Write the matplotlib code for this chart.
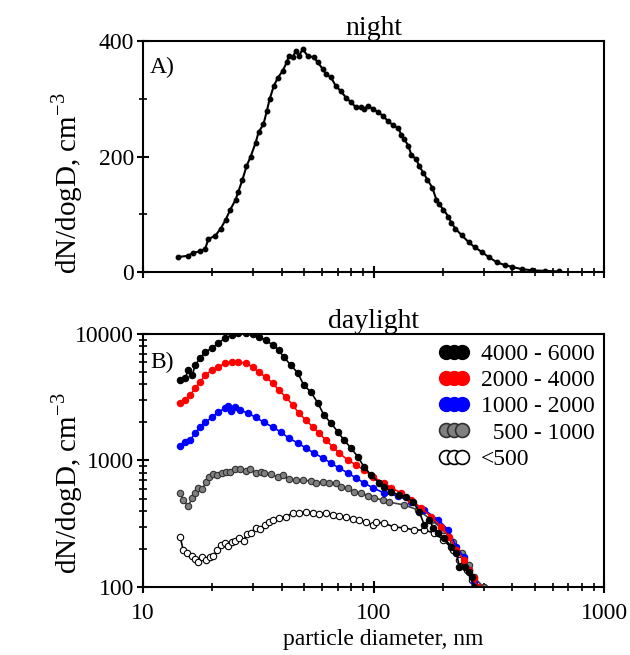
import matplotlib
matplotlib.use("Agg")
import matplotlib.pyplot as plt
from matplotlib.lines import Line2D
from matplotlib.ticker import LogLocator, NullFormatter, FixedLocator

plt.rcParams["font.family"] = ["Liberation Serif", "DejaVu Serif"]
plt.rcParams["mathtext.fontset"] = "custom"
plt.rcParams["mathtext.rm"] = "Liberation Serif"

# ---- A) night ----------------------------------------------------------
night_d = [14.2, 15.6, 16.5, 17.7, 18.6, 19.2, 20.6, 21.7, 22.8, 23.9, 25.2, 25.9,
           27.0, 28.1, 29.3, 30.8, 31.7, 33.3, 34.4, 35.4, 36.9, 38.4, 40.3, 42.0,
           42.9, 44.6, 46.0, 47.4, 49.3, 51.8, 55.0, 57.3, 60.3, 62.1, 65.3, 68.6,
           72.2, 75.9, 79.8, 83.9, 88.2, 90.9, 94.6, 99.5, 104.6, 110.0, 115.7, 121.6,
           127.9, 131.8, 135.8, 141.4, 145.7, 153.2, 157.9, 164.3, 171.1, 179.8, 187.3,
           192.9, 200.8, 211.1, 217.6, 226.5, 240.6, 258.1, 274.2, 294.1, 315.4, 341.8,
           370.3, 397.3, 439.3, 485.7, 553.4, 636.8]
night_n = [26, 28, 33, 36, 40, 57, 63, 75, 90, 108, 125, 139,
           160, 183, 200, 224, 242, 256, 278, 299, 322, 336, 348, 363,
           374, 372, 383, 374, 386, 374, 372, 363, 351, 343, 337, 322,
           313, 302, 294, 285, 285, 282, 288, 282, 277, 270, 261, 254,
           249, 238, 230, 219, 203, 195, 183, 172, 160, 146, 125,
           117, 108, 96, 85, 75, 64, 52, 43, 35, 26, 17,
           12, 9, 5, 3, 2, 1]

# ---- B) daylight, five concentration classes ---------------------------
d_black = [14.5, 15.24, 15.71, 16.35, 16.85, 17.72, 18.63, 19.98, 21.22, 22.77, 24.42,
           25.94, 27.83, 29.86, 31.7, 34.0, 36.48, 38.75, 40.74, 43.71, 46.88, 49.8,
           53.42, 57.3, 60.86, 65.28, 70.04, 74.39, 79.8, 85.6, 90.91, 97.53, 105.7,
           111.1, 119.2, 129.1, 138.6, 148.7, 157.9, 166.0, 174.5, 181.6, 191.0, 202.8,
           217.6, 228.8, 235.8, 248.0, 258.1, 266.0, 271.4]
n_black = [4325, 4490, 5190, 4740, 5690, 6460, 7210, 7750, 8490, 9300, 9820,
           10180, 10180, 10000, 9470, 8970, 8190, 7470, 6580, 5690, 4920, 3950,
           3480, 2850, 2290, 1980, 1680, 1450, 1255, 1066, 889, 768, 664,
           617, 564, 533, 514, 469, 391, 309, 339, 293, 267, 244,
           207, 186, 144, 144, 131, 120, 100]

d_red = [14.5, 15.24, 16.03, 16.85, 17.72, 18.63, 19.98, 21.22, 22.77, 24.42, 25.94,
         27.83, 29.86, 31.7, 34.0, 36.48, 38.75, 41.58, 44.6, 47.36, 50.82, 54.51,
         57.88, 62.09, 66.6, 70.74, 77.43, 83.89, 90.91, 99.5, 111.1, 119.2, 131.8,
         145.7, 161.1, 178.1, 196.9, 213.3, 228.8, 245.5, 258.1, 271.4, 282.5]
n_red = [2850, 3010, 3300, 3740, 4175, 4740, 5190, 5480, 5900, 6010, 6010,
         5900, 5480, 5010, 4570, 4100, 3610, 3180, 2750, 2370, 2090, 1840,
         1650, 1450, 1280, 1147, 1009, 921, 841, 741, 664, 607, 554,
         487, 421, 358, 298, 248, 196, 163, 136, 118, 100]

d_blue = [14.5, 15.24, 16.03, 16.85, 17.72, 18.63, 19.98, 21.22, 22.77, 23.47, 24.18,
          25.17, 26.46, 28.4, 30.77, 33.33, 36.48, 39.54, 42.85, 46.88, 50.82, 55.04,
          60.26, 65.28, 70.74, 77.43, 83.89, 90.91, 99.5, 111.1, 127.9, 145.7, 166.0,
          191.0, 211.1, 228.8, 245.5, 258.1, 271.4]
n_blue = [1303, 1400, 1450, 1650, 1840, 2010, 2200, 2420, 2600, 2700, 2460,
          2650, 2500, 2370, 2200, 2010, 1840, 1680, 1505, 1375, 1255, 1147,
          1046, 955, 873, 796, 727, 664, 607, 554, 525, 469, 406,
          339, 282, 207, 173, 136, 110]

d_gray = [14.5, 14.94, 15.71, 16.35, 16.85, 17.36, 18.07, 18.81, 19.39, 20.18, 21.01,
          22.09, 23.0, 23.94, 25.17, 26.46, 27.83, 28.97, 30.77, 32.34, 33.33, 35.75,
          38.37, 40.34, 42.85, 45.96, 49.3, 53.42, 56.17, 60.26, 63.99, 68.64, 72.18,
          77.43, 82.23, 88.21, 94.63, 100.5, 110.0, 116.8, 135.8, 156.3, 178.1, 200.8,
          222.0, 240.6, 258.1, 271.4, 300.0]
n_gray = [554, 487, 437, 505, 554, 607, 596, 676, 741, 782, 768,
          796, 811, 811, 857, 857, 826, 857, 796, 811, 796, 782,
          741, 768, 714, 701, 701, 689, 664, 676, 664, 664, 617,
          607, 564, 554, 525, 505, 487, 469, 445, 406, 339, 282,
          227, 186, 149, 120, 100]

d_white = [14.5, 14.94, 15.55, 16.35, 16.85, 17.36, 18.07, 18.81, 19.58, 20.18, 21.01,
           21.87, 22.77, 23.47, 24.42, 25.17, 26.2, 27.28, 28.11, 29.27, 30.77, 32.02,
           33.66, 35.04, 36.48, 38.75, 41.58, 44.6, 47.36, 50.82, 54.51, 57.88, 62.09,
           66.6, 70.74, 75.89, 81.41, 86.46, 92.77, 99.5, 102.5, 111.1, 122.8, 135.8,
           150.2, 166.0, 183.5, 200.8, 222.0, 235.8, 253.0, 266.0]
n_white = [248, 196, 186, 176, 166, 158, 173, 163, 173, 176, 196,
           215, 223, 211, 227, 231, 244, 231, 262, 267, 293, 285,
           309, 327, 339, 351, 358, 385, 385, 391, 385, 378, 385,
           371, 365, 358, 345, 339, 327, 309, 327, 319, 298, 293,
           282, 282, 267, 236, 196, 163, 136, 114]

labels = ["4000 - 6000", "2000 - 4000", "1000 - 2000", "  500 - 1000", "<500"]

fig = plt.figure(figsize=(6.3, 6.55), dpi=100)
axA = fig.add_axes([0.227, 0.5847, 0.732, 0.3527])
axB = fig.add_axes([0.227, 0.1038, 0.732, 0.3863])

FS = 17
YL = 21

for ax in (axA, axB):
    ax.set_xscale("log")
    ax.set_xlim(10, 1000)
    for s in ax.spines.values():
        s.set_linewidth(1.5)
    ax.tick_params(which="major", direction="inout", length=9, width=1.5,
                   labelsize=FS, right=False, top=False, pad=2)
    ax.tick_params(which="minor", direction="inout", length=6, width=1.2,
                   right=False, top=False)
    ax.xaxis.set_minor_locator(LogLocator(base=10, subs=range(2, 10)))
    ax.xaxis.set_minor_formatter(NullFormatter())

# panel A
axA.plot(night_d, night_n, color="black", lw=1.5, marker="o", ms=3.2, mfc="black",
         mec="black")
axA.set_ylim(0, 400)
axA.set_yticks([0, 200, 400])
axA.yaxis.set_minor_locator(FixedLocator([100, 300]))
axA.set_xticklabels([])
axA.set_ylabel("dN/dogD, cm$^{-3}$", fontsize=YL)
axA.yaxis.set_label_coords(-0.125, 0.385)
axA.set_title("night", fontsize=20, pad=2)
axA.text(0.015, 0.93, "A)", transform=axA.transAxes, fontsize=FS, va="top")

# panel B
series = [
    (d_white, n_white, "black", "white", "black"),
    (d_gray, n_gray, "#404040", "#808080", "#303030"),
    (d_blue, n_blue, "blue", "blue", "blue"),
    (d_red, n_red, "red", "red", "red"),
    (d_black, n_black, "black", "black", "black"),
]
for d, n, lc, fc, ec in series:
    axB.plot(d, n, color=lc, lw=1.2, marker="o", ms=4.6, mfc=fc, mec=ec, mew=0.8)

axB.set_yscale("log")
axB.set_ylim(100, 10000)
axB.set_yticks([100, 1000, 10000])
axB.set_yticklabels(["100", "1000", "10000"])
axB.yaxis.set_minor_locator(LogLocator(base=10, subs=range(2, 10)))
axB.yaxis.set_minor_formatter(NullFormatter())
axB.set_xticks([10, 100, 1000])
axB.set_xticklabels(["10", "100", "1000"])
axB.tick_params(axis="x", pad=7)
axB.set_ylabel("dN/dogD, cm$^{-3}$", fontsize=YL)
axB.yaxis.set_label_coords(-0.125, 0.41)
axB.set_xlabel("particle diameter, nm", fontsize=FS)
axB.xaxis.set_label_coords(0.52, -0.165)
axB.set_title("daylight", fontsize=20, pad=2)
axB.text(0.015, 0.93, "B)", transform=axB.transAxes, fontsize=FS, va="top")

handles = [
    Line2D([], [], ls="none", marker="o", ms=10, mfc="black", mec="black"),
    Line2D([], [], ls="none", marker="o", ms=10, mfc="red", mec="red"),
    Line2D([], [], ls="none", marker="o", ms=10, mfc="blue", mec="blue"),
    Line2D([], [], ls="none", marker="o", ms=10, mfc="#808080", mec="#303030", mew=1.2),
    Line2D([], [], ls="none", marker="o", ms=10, mfc="white", mec="black", mew=1.2),
]
axB.legend(handles, labels, loc="upper right", frameon=False, fontsize=FS,
           numpoints=3, handlelength=1.3, handletextpad=0.5, labelspacing=0.2,
           borderaxespad=0.0)

fig.savefig("out.png", dpi=100)
